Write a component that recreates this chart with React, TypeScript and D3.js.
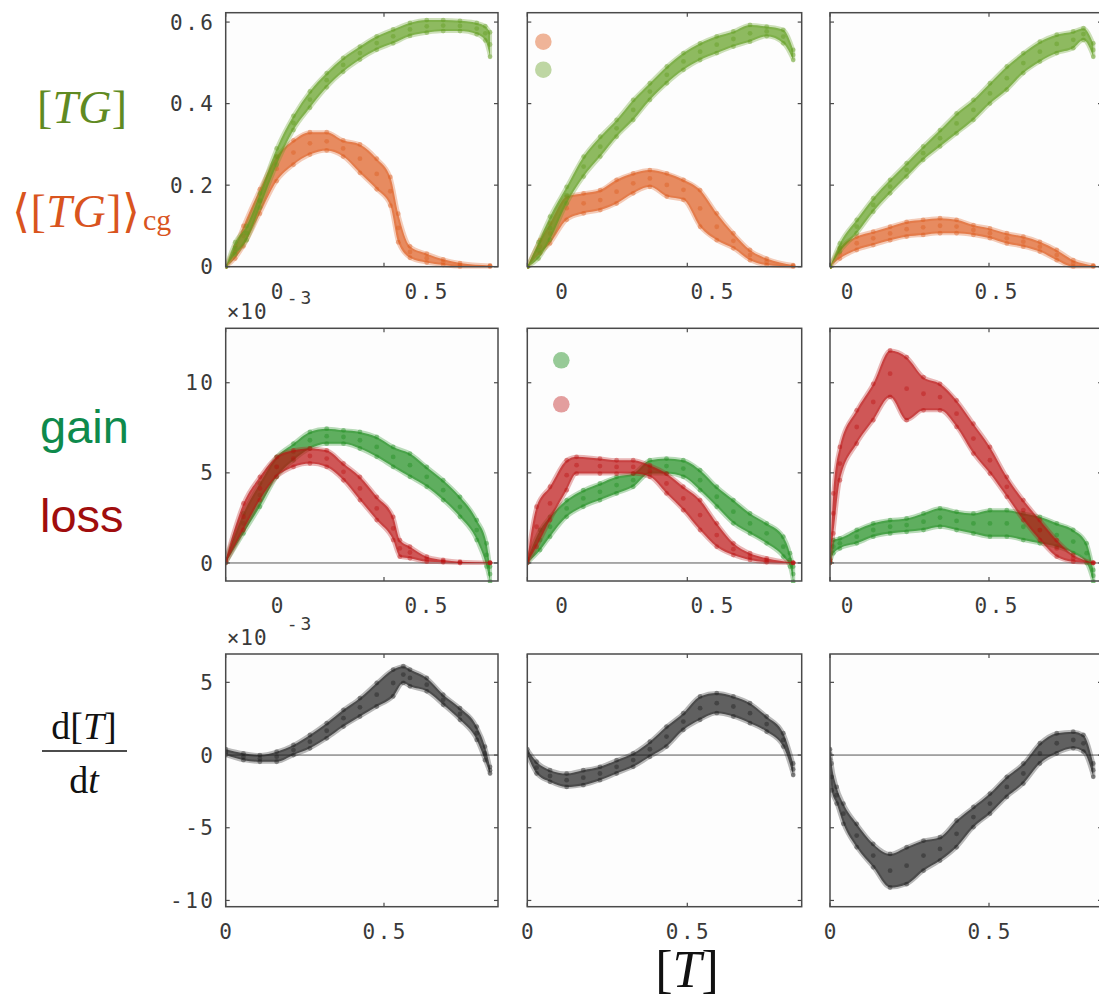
import React from 'react';
import * as d3 from 'd3';

type Pt = [number, number, number]; // [T], lower edge, upper edge of the point cloud

// ---------- Row 1: [TG] (green) and <[TG]>cg (orange) ----------
const tg1: Pt[] = [[0,0,0],[0.03,0.03,0.06],[0.066,0.065,0.1],[0.108,0.145,0.18],[0.161,0.25,0.29],[0.214,0.335,0.37],[0.266,0.39,0.43],[0.319,0.44,0.475],[0.371,0.478,0.512],[0.424,0.508,0.54],[0.477,0.532,0.565],[0.529,0.548,0.582],[0.582,0.566,0.598],[0.635,0.574,0.605],[0.687,0.578,0.605],[0.74,0.578,0.603],[0.793,0.57,0.598],[0.82,0.555,0.59],[0.835,0.515,0.575]];
const cg1: Pt[] = [[0,0,0],[0.03,0.02,0.05],[0.056,0.05,0.1],[0.108,0.13,0.19],[0.161,0.21,0.27],[0.214,0.25,0.31],[0.266,0.275,0.33],[0.319,0.285,0.33],[0.371,0.27,0.31],[0.424,0.23,0.3],[0.477,0.19,0.265],[0.52,0.15,0.22],[0.545,0.06,0.13],[0.582,0.022,0.05],[0.635,0.01,0.032],[0.687,0.004,0.018],[0.74,0,0.009],[0.835,0,0.003]];
const tg2: Pt[] = [[0,0,0],[0.035,0.02,0.06],[0.071,0.066,0.123],[0.123,0.155,0.196],[0.176,0.221,0.27],[0.228,0.27,0.319],[0.279,0.319,0.36],[0.331,0.36,0.409],[0.383,0.409,0.45],[0.436,0.45,0.491],[0.488,0.483,0.524],[0.54,0.507,0.548],[0.592,0.524,0.565],[0.644,0.54,0.577],[0.696,0.552,0.593],[0.748,0.565,0.589],[0.8,0.548,0.581],[0.831,0.507,0.532]];
const cg2: Pt[] = [[0,0,0],[0.04,0.033,0.065],[0.071,0.057,0.106],[0.123,0.115,0.172],[0.176,0.131,0.18],[0.228,0.139,0.188],[0.279,0.155,0.213],[0.331,0.18,0.229],[0.383,0.196,0.237],[0.436,0.172,0.229],[0.488,0.164,0.213],[0.54,0.098,0.188],[0.592,0.065,0.131],[0.644,0.045,0.082],[0.696,0.016,0.041],[0.748,0.004,0.02],[0.831,0,0.004]];
const tg3: Pt[] = [[0,0,0],[0.031,0.037,0.057],[0.084,0.082,0.115],[0.136,0.135,0.168],[0.189,0.18,0.213],[0.241,0.221,0.254],[0.293,0.262,0.295],[0.346,0.295,0.335],[0.398,0.327,0.376],[0.451,0.36,0.409],[0.503,0.4,0.45],[0.556,0.434,0.491],[0.608,0.475,0.524],[0.66,0.503,0.552],[0.713,0.524,0.569],[0.765,0.536,0.577],[0.797,0.556,0.585],[0.828,0.515,0.548]];
const cg3: Pt[] = [[0,0,0],[0.031,0.02,0.045],[0.084,0.041,0.074],[0.136,0.053,0.086],[0.189,0.065,0.098],[0.241,0.074,0.11],[0.293,0.078,0.115],[0.346,0.082,0.119],[0.398,0.082,0.115],[0.451,0.078,0.102],[0.503,0.07,0.094],[0.556,0.057,0.082],[0.608,0.049,0.074],[0.66,0.037,0.061],[0.713,0.016,0.041],[0.765,0,0.016],[0.828,0,0.003]];

// ---------- Row 2: gain (green) and loss (red), x 10^-3 ----------
const gain1: Pt[] = [[0,0,0.2],[0.056,1.64,2.75],[0.108,3.12,4.41],[0.161,4.78,5.89],[0.214,5.7,6.62],[0.266,6.35,7.27],[0.319,6.62,7.45],[0.372,6.62,7.36],[0.424,6.35,7.27],[0.477,5.89,6.99],[0.529,5.33,6.44],[0.582,4.78,6.07],[0.635,4.23,5.33],[0.687,3.49,4.59],[0.74,2.56,3.67],[0.793,1.27,2.38],[0.824,-0.2,1.09],[0.835,-1.03,-0.2]];
const loss1: Pt[] = [[0,0,0.2],[0.056,1.83,3.3],[0.108,3.49,4.78],[0.161,4.78,5.89],[0.214,5.33,6.25],[0.266,5.52,6.35],[0.319,5.33,6.25],[0.372,4.59,5.52],[0.424,3.49,4.78],[0.477,2.38,3.67],[0.529,1.27,2.56],[0.55,0.35,1.27],[0.582,0.26,0.9],[0.635,0.07,0.35],[0.687,0.04,0.17],[0.74,0,0.07],[0.835,0,0.02]];
const gain2: Pt[] = [[0,0,0.2],[0.04,0.72,1.83],[0.071,1.46,2.56],[0.123,2.56,3.49],[0.175,3.12,4.04],[0.227,3.49,4.41],[0.279,3.86,4.78],[0.331,4.23,4.96],[0.383,4.96,5.7],[0.435,4.96,5.79],[0.4875,4.78,5.7],[0.54,4.04,5.15],[0.592,3.12,4.23],[0.644,2.2,3.49],[0.696,1.64,2.75],[0.748,1.09,2.2],[0.8,0.35,1.46],[0.821,-0.2,0.54],[0.831,-1.03,-0.2]];
const loss2: Pt[] = [[0,0,0.2],[0.029,0.9,3.12],[0.071,2.38,4.23],[0.123,4.04,5.7],[0.154,4.96,5.89],[0.227,4.96,5.79],[0.279,4.96,5.7],[0.331,4.96,5.7],[0.383,4.78,5.42],[0.435,3.86,4.96],[0.4875,2.93,4.23],[0.54,1.83,3.49],[0.592,0.9,2.2],[0.644,0.44,1.09],[0.696,0.17,0.54],[0.748,0.04,0.26],[0.831,0,0.02]];
const gain3: Pt[] = [[0,0,0.2],[0.0105,0.54,1.27],[0.031,0.81,1.37],[0.084,1.09,1.83],[0.136,1.46,2.2],[0.189,1.64,2.38],[0.241,1.73,2.47],[0.294,1.83,2.75],[0.346,2.01,3.03],[0.398,1.83,2.84],[0.451,1.64,2.75],[0.503,1.46,2.93],[0.556,1.46,2.93],[0.608,1.27,2.75],[0.66,1.09,2.56],[0.713,0.9,2.2],[0.765,0.54,1.83],[0.807,0,1.09],[0.828,-1.03,-0.39]];
const loss3: Pt[] = [[0,0,0.2],[0.0105,1.64,3.86],[0.031,4.59,6.44],[0.084,6.62,8.47],[0.136,7.92,9.94],[0.189,9.21,11.79],[0.241,7.92,11.42],[0.294,8.47,10.31],[0.346,8.47,9.94],[0.398,7.55,9.02],[0.451,6.07,7.73],[0.503,4.96,6.44],[0.556,3.67,4.78],[0.608,2.38,3.49],[0.66,1.27,2.38],[0.713,0.35,1.27],[0.765,0.07,0.44],[0.828,0,0.02]];

// ---------- Row 3: d[T]/dt (black), x 10^-3 ----------
const dT1: Pt[] = [[0,0,0.4],[0.056,-0.35,0.12],[0.108,-0.46,0],[0.161,-0.46,0.23],[0.214,0,0.69],[0.266,0.46,1.38],[0.319,1.15,2.19],[0.372,1.96,3.11],[0.424,2.65,3.92],[0.477,3.34,4.96],[0.529,4.03,5.88],[0.561,4.96,6.11],[0.582,4.73,5.88],[0.635,4.38,5.3],[0.687,3.46,4.15],[0.74,2.42,3.23],[0.793,1.04,1.96],[0.819,-0.35,0.58],[0.835,-1.27,-0.81]];
const dT2: Pt[] = [[0,0,0.4],[0.029,-1.27,-0.46],[0.071,-1.84,-1.04],[0.123,-2.19,-1.27],[0.175,-2.07,-1.04],[0.227,-1.73,-0.81],[0.279,-1.27,-0.35],[0.331,-0.81,0.12],[0.383,-0.12,0.92],[0.435,0.58,1.96],[0.4875,1.73,2.88],[0.54,2.42,4.03],[0.592,2.88,4.26],[0.644,2.65,4.03],[0.696,2.19,3.57],[0.748,1.61,2.65],[0.8,0.58,1.5],[0.831,-1.38,-0.58]];
const dT3: Pt[] = [[0,-0.3,0.4],[0.005,-2.42,-0.58],[0.021,-3.34,-2.19],[0.042,-4.73,-3.34],[0.084,-6.34,-4.73],[0.136,-7.72,-6.11],[0.189,-9.11,-6.8],[0.241,-8.88,-6.34],[0.294,-7.95,-5.88],[0.346,-7.26,-5.65],[0.398,-6.34,-4.5],[0.451,-4.96,-3.57],[0.503,-4.03,-2.65],[0.556,-2.88,-1.5],[0.608,-1.96,-0.58],[0.66,-0.58,0.81],[0.713,0.12,1.5],[0.765,0.46,1.61],[0.797,0.23,1.38],[0.828,-1.5,-0.58]];

// ---------- Axes ----------
const xTicks = [0, 0.5];
const xTickLabels = ['0', '0.5'];
const rowTicks = [[0, 0.2, 0.4, 0.6], [0, 5, 10], [-10, -5, 0, 5]];
const rowTickLabels = [['0', '0.2', '0.4', '0.6'], ['0', '5', '10'], ['-10', '-5', '0', '5']];
const rowDomain: [number, number][] = [[0, 0.623], [-1, 13.02], [-10.43, 6.95]];

// ---------- Colours ----------
const C_TG = '#5e9c1c';
const C_CG = '#dd5a1c';
const C_GAIN = '#1b8c1b';
const C_LOSS = '#bb1010';
const C_DT = '#1c1c1c';

// ---------- Layout ----------
const colLeft = [225.7, 527.3, 830];
const colWidth = [272.3, 274.4, 272];
const colHalf = [158.3, 160, 159];
const rowTop = [12.7, 328.3, 654];
const rowBottom = [266.7, 581, 906.7];
// the source figure's x tick labels in the two upper rows are drawn shifted from their ticks
const upperLabelPos = [[277, 426], [561.7, 712], [847, 996]];

const MONO = "'DejaVu Sans Mono', monospace";
const SERIF = "'Liberation Serif', 'DejaVu Serif', serif";
const SANS = "'Liberation Sans', Arial, sans-serif";
const TICK_FS = 21;
const TICK_LS = 2.5;

type Series = { data: Pt[]; color: string };

const panels: { row: number; col: number; series: Series[] }[] = [
  { row: 0, col: 0, series: [{ data: cg1, color: C_CG }, { data: tg1, color: C_TG }] },
  { row: 0, col: 1, series: [{ data: cg2, color: C_CG }, { data: tg2, color: C_TG }] },
  { row: 0, col: 2, series: [{ data: cg3, color: C_CG }, { data: tg3, color: C_TG }] },
  { row: 1, col: 0, series: [{ data: gain1, color: C_GAIN }, { data: loss1, color: C_LOSS }] },
  { row: 1, col: 1, series: [{ data: gain2, color: C_GAIN }, { data: loss2, color: C_LOSS }] },
  { row: 1, col: 2, series: [{ data: gain3, color: C_GAIN }, { data: loss3, color: C_LOSS }] },
  { row: 2, col: 0, series: [{ data: dT1, color: C_DT }] },
  { row: 2, col: 1, series: [{ data: dT2, color: C_DT }] },
  { row: 2, col: 2, series: [{ data: dT3, color: C_DT }] },
];

function Panel({ row, col, series }: { row: number; col: number; series: Series[] }) {
  const left = colLeft[col];
  const right = left + colWidth[col];
  const top = rowTop[row];
  const bottom = rowBottom[row];
  const x = d3.scaleLinear().domain([0, 0.5]).range([left, left + colHalf[col]]);
  const y = d3.scaleLinear().domain(rowDomain[row]).range([bottom, top]);
  const area = d3
    .area<Pt>()
    .x((d) => x(d[0]))
    .y0((d) => y(d[1]))
    .y1((d) => y(d[2]))
    .curve(d3.curveMonotoneX);
  const clipId = `clip-${row}-${col}`;
  return (
    <g>
      <defs>
        <clipPath id={clipId}>
          <rect x={left} y={top - 2} width={right - left} height={bottom - top + 4} />
        </clipPath>
      </defs>
      <rect x={left} y={top} width={right - left} height={bottom - top} fill="#fdfdfd" />
      {row > 0 && (
        <line x1={left} x2={right} y1={y(0)} y2={y(0)} stroke="#555" strokeWidth={1} />
      )}
      <g clipPath={`url(#${clipId})`}>
        {series.map((s, i) => (
          <g key={i}>
            <path
              d={area(s.data) || ''}
              fill={s.color}
              fillOpacity={0.7}
              stroke={s.color}
              strokeOpacity={0.3}
              strokeWidth={4}
              strokeLinejoin="round"
            />
            {s.data.map((d, j) => (
              <g key={j} fill={s.color} fillOpacity={0.4}>
                <circle cx={x(d[0])} cy={y(d[1])} r={2.4} />
                <circle cx={x(d[0])} cy={y(d[2])} r={2.4} />
                <circle cx={x(d[0])} cy={y((d[1] + d[2]) / 2)} r={2.4} />
              </g>
            ))}
          </g>
        ))}
      </g>
      <rect x={left} y={top} width={right - left} height={bottom - top} fill="none" stroke="#4a4a4a" strokeWidth={1.5} />
      {rowTicks[row].map((t) => (
        <g key={'y' + t} stroke="#4a4a4a" strokeWidth={1.2}>
          <line x1={left} x2={left + 4} y1={y(t)} y2={y(t)} />
          <line x1={right - 4} x2={right} y1={y(t)} y2={y(t)} />
        </g>
      ))}
      {xTicks.map((t) => (
        <g key={'x' + t} stroke="#4a4a4a" strokeWidth={1.2}>
          <line x1={x(t)} x2={x(t)} y1={top} y2={top + 4} />
          <line x1={x(t)} x2={x(t)} y1={bottom - 4} y2={bottom} />
        </g>
      ))}
      {xTickLabels.map((lab, i) => (
        <text
          key={'xl' + i}
          x={(row < 2 ? upperLabelPos[col][i] : x(xTicks[i])) + TICK_LS / 2}
          y={bottom + 32}
          textAnchor="middle"
          fontFamily={MONO}
          fontSize={TICK_FS}
          letterSpacing={TICK_LS}
          fill="#3a3a3a"
        >
          {lab}
        </text>
      ))}
      {col === 0 &&
        rowTickLabels[row].map((lab, i) => (
          <text
            key={'yl' + i}
            x={213 + TICK_LS}
            y={y(rowTicks[row][i])}
            dy="0.36em"
            textAnchor="end"
            fontFamily={MONO}
            fontSize={TICK_FS}
            letterSpacing={TICK_LS}
            fill="#3a3a3a"
          >
            {lab}
          </text>
        ))}
      {col === 0 && row > 0 && (
        <g fontFamily={MONO} fill="#3a3a3a">
          <text x={left + 1} y={top - 9} fontSize={TICK_FS} letterSpacing={1}>×10</text>
          <text x={left + 61} y={top - 24} fontSize={18} letterSpacing={3}>-3</text>
        </g>
      )}
      {row === 0 && col === 1 && (
        <g>
          <circle cx={left + 16} cy={top + 29} r={8.3} fill={C_CG} fillOpacity={0.45} />
          <circle cx={left + 16} cy={top + 57} r={8.3} fill={C_TG} fillOpacity={0.4} />
        </g>
      )}
      {row === 1 && col === 1 && (
        <g>
          <circle cx={left + 34} cy={top + 32} r={8.3} fill={C_GAIN} fillOpacity={0.45} />
          <circle cx={left + 34} cy={top + 76} r={8.3} fill={C_LOSS} fillOpacity={0.4} />
        </g>
      )}
    </g>
  );
}

export default function App() {
  return (
    <svg
      width={1099}
      height={999}
      style={{ position: 'absolute', left: 0, top: 0, background: '#fff' }}
      xmlns="http://www.w3.org/2000/svg"
    >
      <rect x={0} y={0} width={1099} height={999} fill="#fff" />
      {panels.map((p) => (
        <Panel key={`${p.row}-${p.col}`} {...p} />
      ))}

      {/* Row labels */}
      <text x={37} y={123} fontFamily={SERIF} fontSize={46} fill="#5f8a22" textLength={90} lengthAdjust="spacing">
        [<tspan fontStyle="italic">TG</tspan>]
      </text>
      <text x={12} y={227} fontFamily={SERIF} fontSize={46} fill="#d9541e" textLength={128} lengthAdjust="spacing">
        ⟨[<tspan fontStyle="italic">TG</tspan>]⟩
      </text>
      <text x={143} y={230} fontFamily={SERIF} fontSize={30} fill="#d9541e">cg</text>

      <text x={40} y={443} fontFamily={SANS} fontSize={47} fill="#0e8a4c">gain</text>
      <text x={40} y={532} fontFamily={SANS} fontSize={47} fill="#a00d0d">loss</text>

      <text x={84} y={739} textAnchor="middle" fontFamily={SERIF} fontSize={38} fill="#111">
        d[<tspan fontStyle="italic">T</tspan>]
      </text>
      <line x1={42} x2={127} y1={751} y2={751} stroke="#111" strokeWidth={1.7} />
      <text x={84} y={793} textAnchor="middle" fontFamily={SERIF} fontSize={38} fill="#111">
        d<tspan fontStyle="italic">t</tspan>
      </text>

      <text x={687} y={987} textAnchor="middle" fontFamily={SERIF} fontSize={52} fill="#111">
        [<tspan fontStyle="italic">T</tspan>]
      </text>
    </svg>
  );
}
